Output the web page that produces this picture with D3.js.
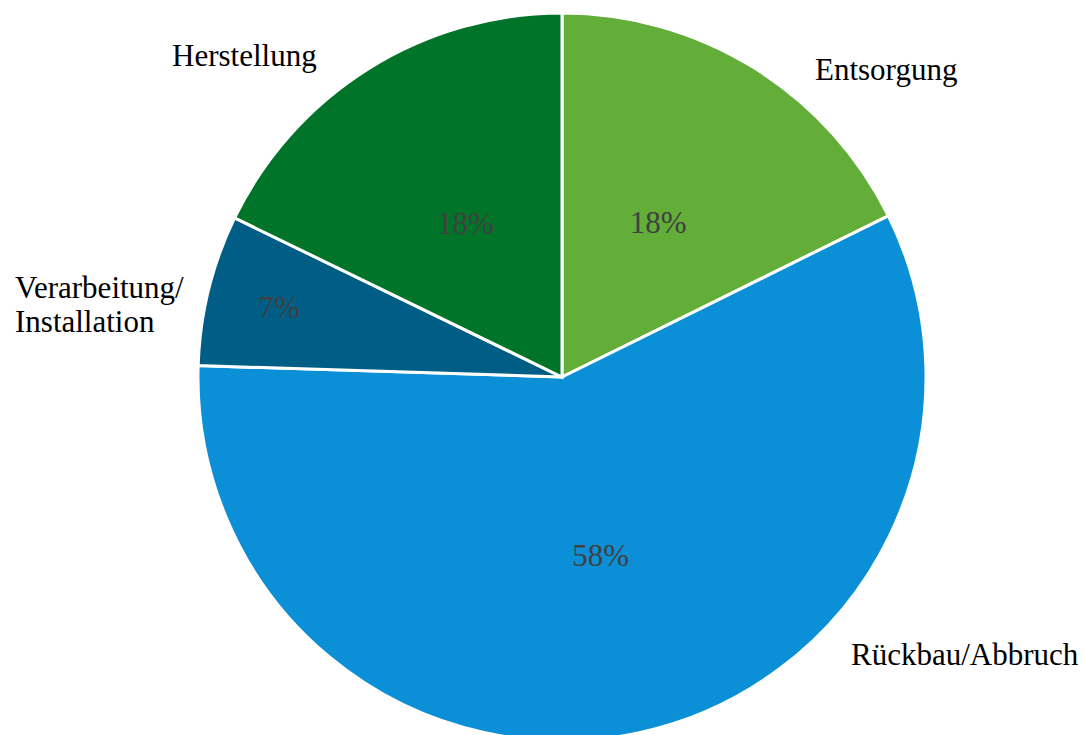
<!DOCTYPE html>
<html><head><meta charset="utf-8">
<script src="https://cdn.jsdelivr.net/npm/d3@7"></script>
<style>html,body{margin:0;padding:0;background:#fff;overflow:hidden}</style>
</head><body>
<svg id="c" width="1085" height="735"></svg>
<script>
const categories = ["Entsorgung", "Rückbau/Abbruch", "Verarbeitung/Installation", "Herstellung"];
const values = [17.7, 57.8, 6.7, 17.8];
const percentLabels = ["18%", "58%", "7%", "18%"];
const colors = ["#62AE38", "#0B8FD6", "#005E86", "#007428"];

const svg = d3.select("#c");
const cx = 562, cy = 377, R = 364;
const g = svg.append("g").attr("transform", `translate(${cx},${cy})`);
const pie = d3.pie().sort(null).value(d => d)(values);
const arc = d3.arc().innerRadius(0).outerRadius(R);
g.selectAll("path").data(pie).join("path")
  .attr("d", arc).attr("fill", (d,i) => colors[i])
  .attr("stroke", "#fff").attr("stroke-width", 3).attr("stroke-linejoin", "miter");

const font = "'Liberation Serif', 'Times New Roman', serif";
g.selectAll("text.pct").data(pie).join("text")
  .attr("class", "pct")
  .attr("transform", d => {
    const frac = (d.endAngle - d.startAngle) / (2*Math.PI);
    const r = frac < 0.1 ? R*0.8 : R*0.5;
    const a = (d.startAngle + d.endAngle)/2;
    return `translate(${Math.sin(a)*r},${-Math.cos(a)*r})`;
  })
  .attr("text-anchor", "middle").attr("dy", "0.35em")
  .attr("font-family", font).attr("font-size", 31).attr("fill", "#404040")
  .text((d,i) => percentLabels[i]);

// outside category labels
const outPos = [
  {x: 815, y: 80, lines: [categories[0]]},
  {x: 851, y: 665, lines: [categories[1]]},
  {x: 15, y: 298, lines: ["Verarbeitung/", "Installation"]},
  {x: 172, y: 66, lines: [categories[3]]}
];
outPos.forEach(p => {
  const t = svg.append("text").attr("x", p.x).attr("y", p.y)
    .attr("font-family", font).attr("font-size", 31).attr("fill", "#000");
  p.lines.forEach((l, j) => t.append("tspan").attr("x", p.x).attr("dy", j ? 34 : 0).text(l));
});
</script>
</body></html>
